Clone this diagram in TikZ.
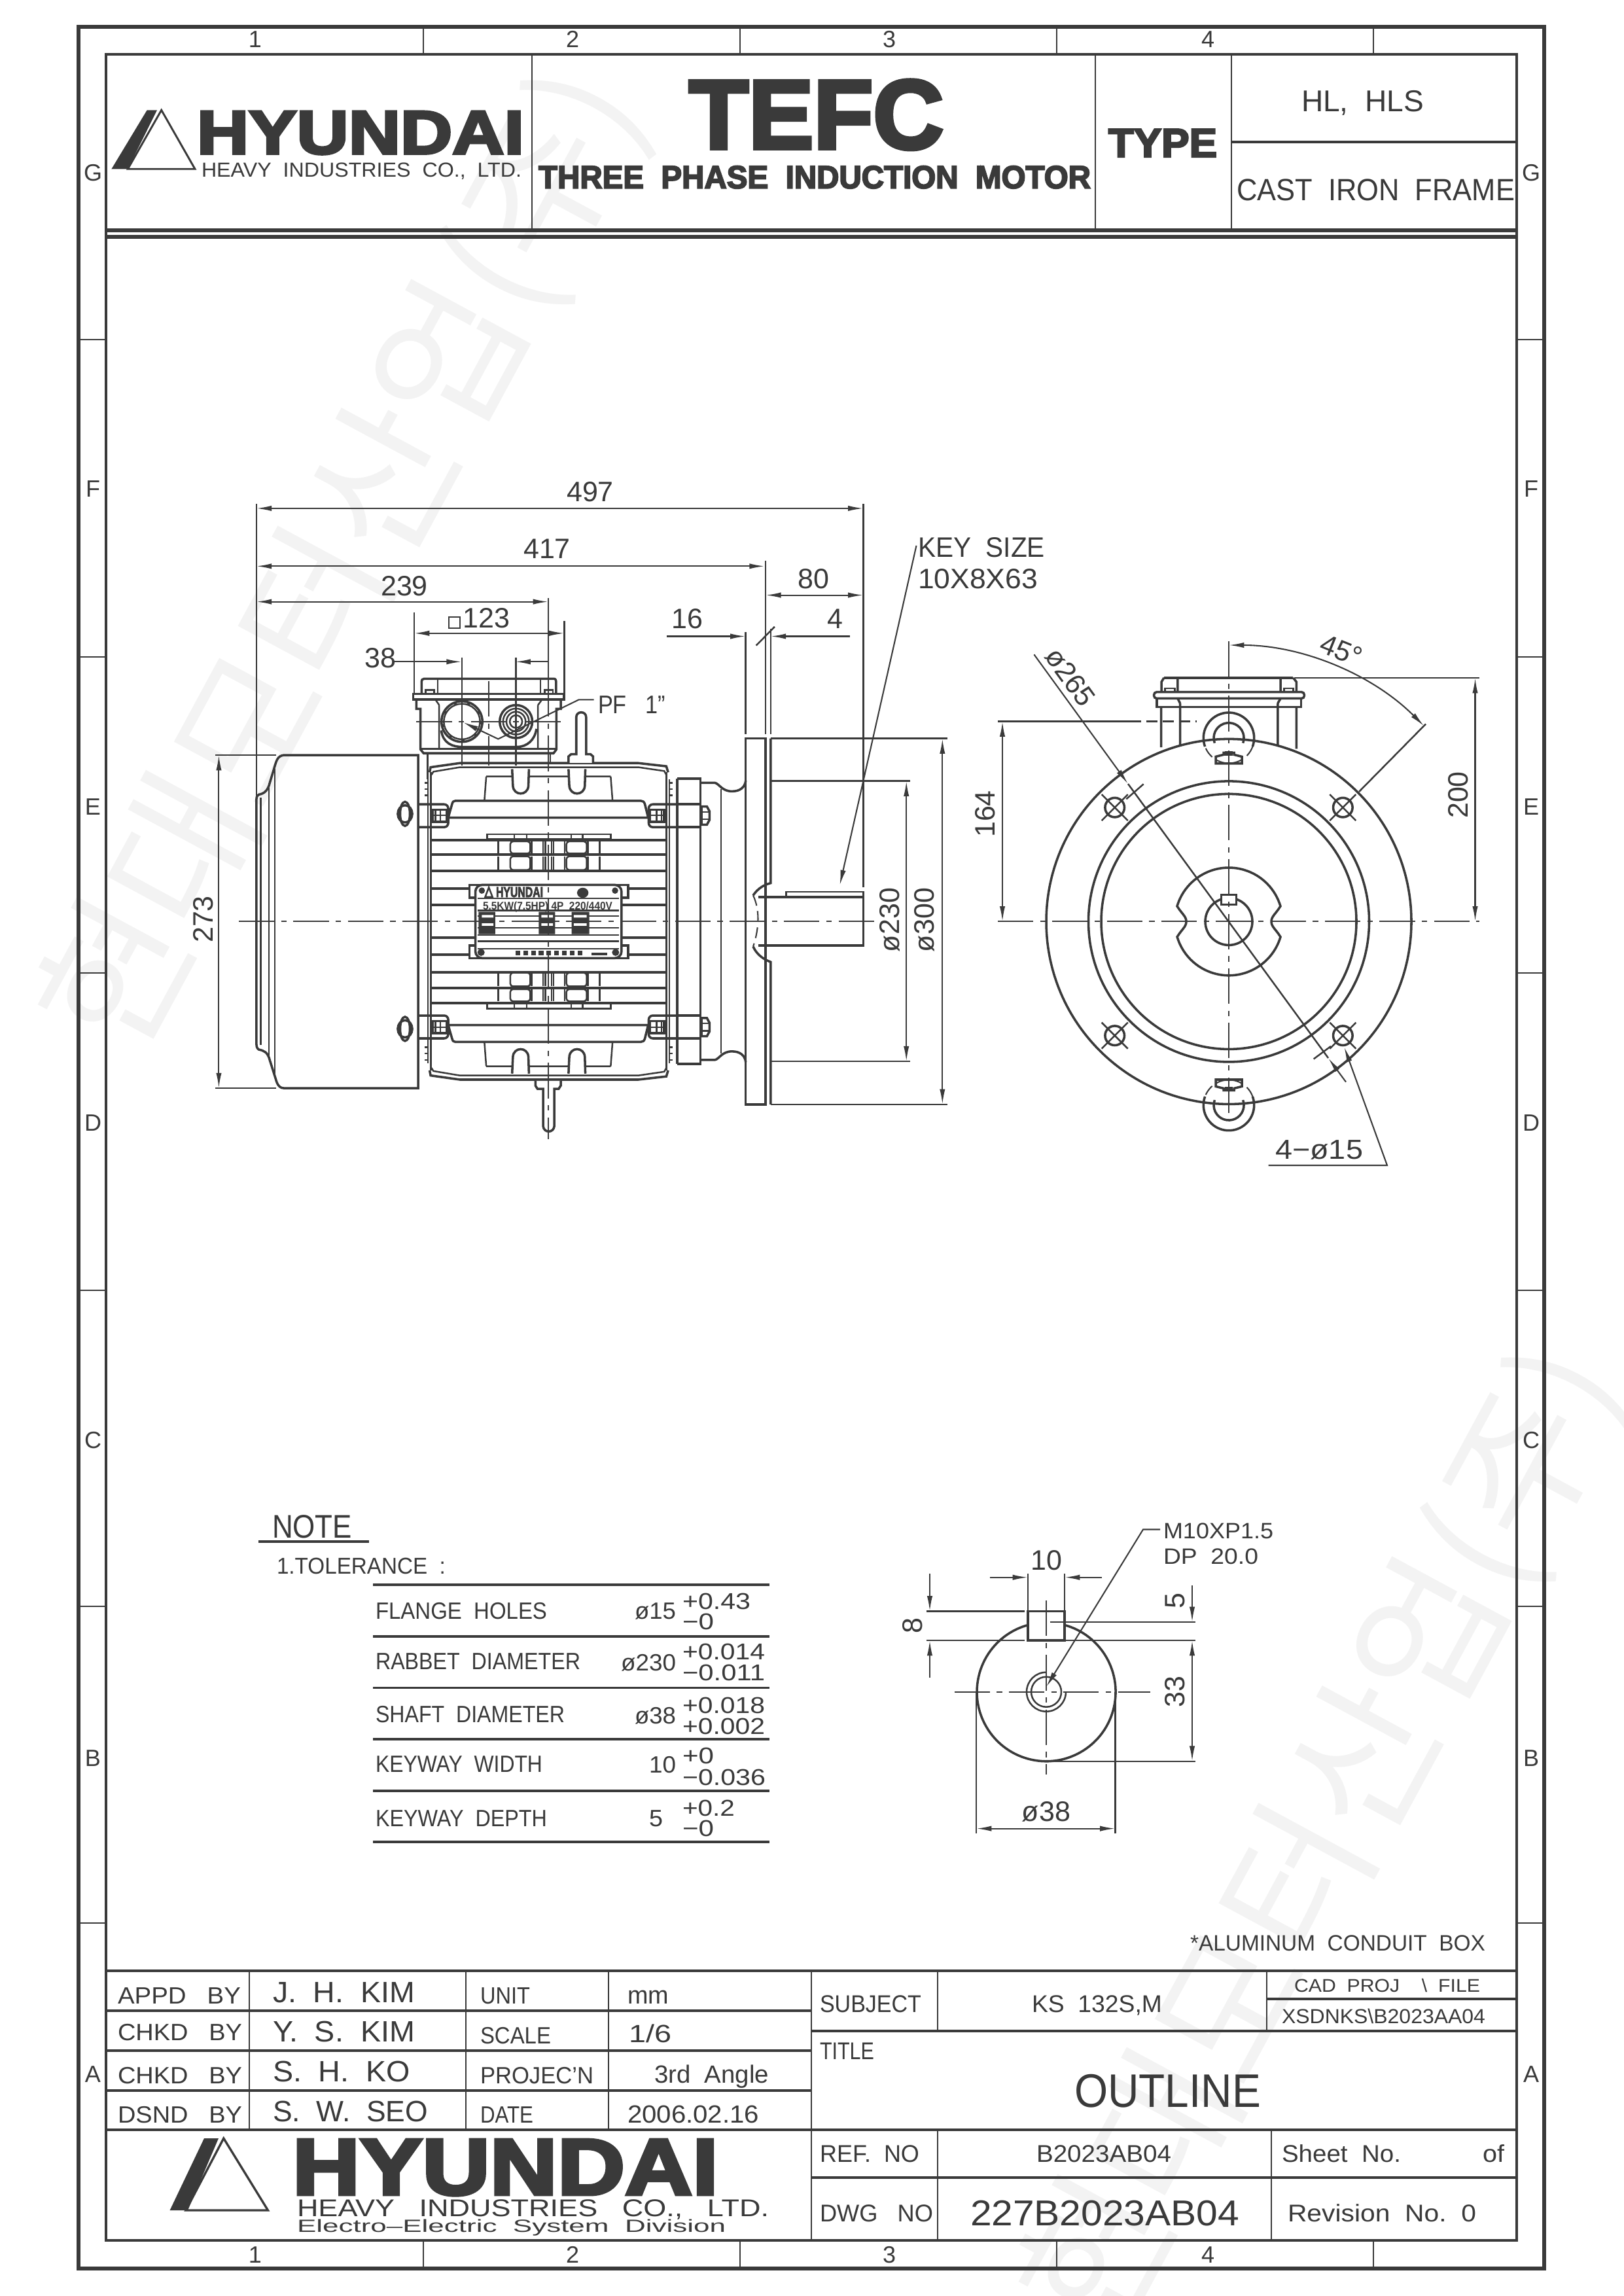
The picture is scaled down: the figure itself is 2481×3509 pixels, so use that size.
\documentclass[tikz,border=0pt]{standalone}
\usepackage{fontspec}
\usetikzlibrary{arrows.meta}
\setmainfont{Liberation Sans}
\newfontfamily\hvy[BoldFeatures={FakeBold=4}]{Liberation Sans}
\newfontfamily\cjk{Noto Sans CJK KR}
\definecolor{ink}{HTML}{3A3A3A}
\definecolor{wm}{HTML}{F3F3F3}
\newdimen\pu \pu=.24pt
\newdimen\mydh
\newcount\txno
\newcommand\hb{\hvy\bfseries}
\newcommand\fz[1]{\fontsize{\the\dimexpr#1\pu\relax}{\the\dimexpr#1\pu\relax}\selectfont}
\newcommand\fitw[3]{{\fz{#2}\sbox0{#3}\mydh=\ht0\relax\resizebox{#1\pu}{\mydh}{\usebox0}}}
% text: baseline-left x, y, width, font px, text
\newcommand\Tx[6][]{\global\advance\txno1 \node[txt,anchor=base west,name=t\the\txno,#1] at (#2,#3) {\fitw{#4}{#5}{#6}};}
% text centred at x,y with natural width
\newcommand\Cc[5][]{\global\advance\txno1 \node[txt,anchor=center,name=t\the\txno,#1] at (#2,#3) {\fz{#4}#5};}
\newcommand\Dm[4][]{\Cc[#1]{#2}{#3}{43}{#4}}
\newcommand\sq{{\fboxsep=.8pt\fboxrule=.45pt\raisebox{.9pt}{\fbox{\rule{2.2pt}{0pt}\rule{0pt}{1.9pt}}}\kern.8pt}}
\tikzset{
  txt/.style={inner sep=0pt,outer sep=0pt,text=ink},
  >={Latex[length=5.6pt,width=2pt]},
  dimn/.style={line width=.5pt,<->},
  cline/.style={line width=.5pt,dash pattern=on 13pt off 2.5pt on 2pt off 2.5pt},
  hid/.style={line width=.5pt,dash pattern=on 4pt off 2pt},
  frm/.style={line width=1.25pt},
  grid/.style={line width=.75pt},
  body/.style={line width=.85pt},
  fin/.style={line width=.95pt},
  z2/.style={shift={(300,720)},xscale=.7653,yscale=.6698},
  z3/.style={shift={(600,1000)},xscale=.3954,yscale=.4847},
  z4/.style={shift={(1480,940)},xscale=.5485,yscale=.574},
}
\begin{document}
\begin{tikzpicture}[x=.24pt,y=-.24pt,line width=.6pt,color=ink]
\useasboundingbox (0,0) rectangle (2481,3509);
\fill[white] (0,0) rectangle (2481,3509);
% watermark
\node[inner sep=0pt,rotate=61.6,text=wm] (wm1) at (530,860) {\resizebox{1660\pu}{!}{\fz{190}\cjk 현대모터산업(주)}};
\node[inner sep=0pt,rotate=61.6,text=wm] (wm2) at (2029,2812) {\resizebox{1660\pu}{!}{\fz{190}\cjk 현대모터산업(주)}};
% frames
\draw[frm] (120,41) rectangle (2360,3467);
\draw[grid] (162,83) rectangle (2318,3424);
\foreach \x in {647,1131,1615,2099} {\draw (\x,41)--(\x,83); \draw (\x,3424)--(\x,3467);}
\foreach \y in {519,1004,1487,1972,2455,2939} {\draw (120,\y)--(162,\y); \draw (2318,\y)--(2360,\y);}
\Cc{390}{60}{36}{1}\Cc{875}{60}{36}{2}\Cc{1359}{60}{36}{3}\Cc{1846}{60}{36}{4}
\Cc{390}{3446}{36}{1}\Cc{875}{3446}{36}{2}\Cc{1359}{3446}{36}{3}\Cc{1846}{3446}{36}{4}
\foreach \l/\y in {G/264,F/747,E/1233,D/1716,C/2201,B/2687,A/3170} {\Cc{142}{\y}{36}{\l}\Cc{2340}{\y}{36}{\l}}
% header
\draw[frm] (162,352)--(2318,352) (162,362)--(2318,362);
\draw (813,83)--(813,352) (1674,83)--(1674,352) (1882,83)--(1882,352);
\draw[grid] (1882,217)--(2318,217);
\fill (224.7,168.3)--(240,168.3)--(195.3,258.3)--(170.4,258.3)--cycle;
\draw[line width=.7pt] (246.7,168.3)--(298,258.3)--(195.3,258.3)--cycle;
\Tx{301}{235}{500}{94}{\hb HYUNDAI}
\Tx{308}{270.7}{489}{31}{HEAVY~~INDUSTRIES~~CO.,~~LTD.}
\Tx{1053}{227}{389}{150}{\hb TEFC}
\Tx{823}{287.7}{844}{49}{\hb THREE~~PHASE~~INDUCTION~~MOTOR}
\Tx{1694}{240}{166}{62}{\hb TYPE}
\Tx{1989}{170.7}{187}{46}{HL,~~HLS}
\Tx{1890}{307}{425}{47}{CAST~~IRON~~FRAME}
% title block
\Tx{1819}{2981.7}{451}{34}{*ALUMINUM~~CONDUIT~~BOX}
\draw[grid] (162,3012)--(2318,3012) (162,3255)--(2318,3255) (1240,3104)--(2318,3104) (1936,3055)--(2318,3055)
 (1240,3328)--(2318,3328) (162,3073)--(1240,3073) (162,3134)--(1240,3134) (162,3195)--(1240,3195);
\draw (381,3012)--(381,3255) (712,3012)--(712,3255) (930,3012)--(930,3255) (1240,3012)--(1240,3424)
 (1433,3012)--(1433,3104) (1936,3012)--(1936,3104) (1433,3255)--(1433,3424) (1943,3255)--(1943,3424);
\Tx{180}{3062.7}{188}{36}{APPD~~~BY}
\Tx{180}{3118}{190}{36}{CHKD~~~BY}
\Tx{180}{3184}{190}{36}{CHKD~~~BY}
\Tx{180}{3244}{190}{36}{DSND~~~BY}
\Tx{417}{3060}{217}{45}{J.~~H.~~KIM}
\Tx{417}{3120}{217}{45}{Y.~~S.~~KIM}
\Tx{417}{3181.7}{210}{45}{S.~~H.~~KO}
\Tx{417}{3242.7}{237}{45}{S.~~W.~~SEO}
\Tx{734}{3062.7}{76}{36}{UNIT}
\Tx{734}{3123}{108}{36}{SCALE}
\Tx{734}{3184}{173}{36}{PROJEC'N}
\Tx{734}{3244.7}{81}{36}{DATE}
\Tx{959}{3062.7}{63}{38}{mm}
\Tx{961}{3121.7}{65}{38}{1/6}
\Tx{1000}{3183}{175}{38}{3rd~~Angle}
\Tx{959}{3244.7}{201}{38}{2006.02.16}
\Tx{1253}{3075}{155}{37}{SUBJECT}
\Tx{1577}{3075}{199}{37}{KS~~132S,M}
\Tx{1978}{3044}{284}{28}{CAD~~PROJ~~~~\textbackslash~~FILE}
\Tx{1959}{3092.7}{311}{31}{XSDNKS\textbackslash B2023AA04}
\Tx{1253}{3147}{83}{37}{TITLE}
\Tx{1642}{3220.7}{285}{72}{OUTLINE}
\Tx{1253}{3304}{152}{37}{REF.~~NO}
\Tx{1584}{3304}{206}{37}{B2023AB04}
\Tx{1959}{3304}{182}{37}{Sheet~~No.}
\Tx{2266}{3304}{33}{37}{of}
\Tx{1253}{3395.7}{173}{37}{DWG~~~NO}
\Tx{1483}{3401.7}{411}{55}{227B2023AB04}
\Tx{1968}{3395.7}{288}{37}{Revision~~No.~~0}
\fill (312,3268)--(334,3268)--(287,3378)--(259.6,3378)--cycle;
\draw[line width=.8pt] (341.8,3268)--(409.5,3378)--(284,3378)--cycle;
\Tx{447}{3354}{651}{122}{\hb HYUNDAI}
\Tx{454}{3387}{721}{37}{HEAVY~~~INDUSTRIES~~~CO.,~~~LTD.}
\Tx{454}{3411.7}{655}{27}{Electro--Electric~~System~~Division}
% note and table
\Tx{416}{2350}{122}{50}{NOTE}
\draw[grid] (395,2356)--(564,2356);
\Tx{423}{2405}{258}{35}{1.TOLERANCE~~:}
\foreach \y in {2422,2501,2579.6,2658,2737,2815} {\draw[grid] (570,\y)--(1176,\y);}
\Tx{574}{2474}{262}{36}{FLANGE~~HOLES}
\Tx{970}{2474}{63}{36}{ø15}
\Tx{1043}{2459}{104}{35}{+0.43}
\Tx{1043}{2490}{48}{35}{−0}
\Tx{574}{2551}{313}{36}{RABBET~~DIAMETER}
\Tx{949}{2553.6}{84}{36}{ø230}
\Tx{1043}{2536.4}{126}{35}{+0.014}
\Tx{1043}{2568.6}{126}{35}{−0.011}
\Tx{574}{2632}{289}{36}{SHAFT~~DIAMETER}
\Tx{970}{2634}{63}{36}{ø38}
\Tx{1043}{2618.6}{126}{35}{+0.018}
\Tx{1043}{2650}{126}{35}{+0.002}
\Tx{574}{2708}{255}{36}{KEYWAY~~WIDTH}
\Tx{992}{2709}{41}{36}{10}
\Tx{1043}{2695}{48}{35}{+0}
\Tx{1043}{2728}{127}{35}{−0.036}
\Tx{574}{2791}{262}{36}{KEYWAY~~DEPTH}
\Tx{992}{2791}{21}{36}{5}
\Tx{1043}{2775}{80}{35}{+0.2}
\Tx{1043}{2806}{48}{35}{−0}
% shaft end view
\begin{scope}
\coordinate (sc) at (1599,2585.7);
\draw[body] (1627,2483.5) arc[start angle=-74.7,end angle=254.7,radius=106];
\draw[body] (1571,2462.5) rectangle (1627,2507);
\draw (sc) circle (23);
\draw (1629,2585.7) arc[start angle=0,end angle=270,radius=30];
\draw[cline] (1458.6,2585.7)--(1757.6,2585.7);
\draw[cline] (1599,2446)--(1599,2712);
\draw (1415.7,2462.5)--(1565.7,2462.5) (1415.7,2507)--(1565.7,2507) (1627,2507)--(1827,2507) (1604.5,2479)--(1827,2479) (1599,2691.8)--(1827,2691.8);
\draw (1571,2405)--(1571,2462.5) (1627,2405)--(1627,2462.5);
\draw[line width=.5pt,->] (1512.7,2410.7)--(1571,2410.7);
\draw[line width=.5pt,->] (1684,2410.7)--(1627,2410.7);
\draw[line width=.5pt,->] (1421,2405)--(1421,2462.5);
\draw[line width=.5pt,->] (1421,2564)--(1421,2507);
\draw[line width=.5pt,->] (1822,2422.5)--(1822,2479);
\draw[dimn] (1822,2507)--(1822,2691.8);
\draw[dimn] (1492,2794.6)--(1704.5,2794.6);
\draw (1492,2585.7)--(1492,2802) (1704.5,2585.7)--(1704.5,2802);
\draw[line width=.5pt,<-] (1599,2578)--(1747,2337.5)--(1773,2337.5);
\Dm{1599}{2385}{10}
\Dm[rotate=90]{1395}{2485}{8}
\Dm[rotate=90]{1796}{2447}{5}
\Dm[rotate=90]{1796}{2585.7}{33}
\Dm{1599}{2769}{ø38}
\Tx{1778}{2351}{168}{34}{M10XP1.5}
\Tx{1778}{2390}{145}{34}{DP~~20.0}
\end{scope}
% side view: fan cover, flange, shaft
\begin{scope}[z2]
\draw[body] (443,648)--(175,648) .. controls (162,650) and (160,660) .. (155,680)--(147,710) .. controls (143,730) and (135,736) .. (125,738) .. controls (120,742) and (120,745) .. (120,750)--(120,1300) .. controls (120,1312) and (120,1316) .. (125,1320) .. controls (135,1322) and (143,1326) .. (147,1345)--(160,1392) .. controls (163,1403) and (168,1408) .. (175,1408)--(443,1408)--cycle;
\draw (129,745)--(129,1310) (145,722)--(145,1335) (157,680)--(157,1385);
\draw[body] (1097,610) rectangle (1137,1445);
\draw (1097,368)--(1097,600) (1137,205)--(1137,600) (1147,360)--(1147,600);
\draw (1147,610)--(1500,610) (1147,1445)--(1500,1445);
\draw (1147,707)--(1425,707) (1147,1347)--(1425,1347);
\draw[body] (1147,610)--(1147,940) .. controls (1130,945) and (1120,955) .. (1112,968);
\draw[hid] (1112,968) .. controls (1125,1000) and (1125,1040) .. (1112,1085);
\draw[body] (1112,1085) .. controls (1120,1105) and (1135,1115) .. (1147,1120)--(1147,1445);
\draw[body] (1122,972)--(1332,972)--(1332,1082)--(1122,1082);
\draw (1178,960) rectangle (1332,972);
% dimensions
\draw (120,75)--(120,740) (1332,75)--(1332,950);
\draw[dimn] (120,85)--(1332,85);
\draw[dimn] (120,217)--(1135,217);
\draw[dimn] (120,298)--(703,298);
\draw (435,322)--(435,510) (735,342)--(735,510);
\draw[dimn] (435,370)--(735,370);
\draw[line width=.5pt,->] (395,435)--(530,435);
\draw[line width=.5pt,->] (703,435)--(637,435);
\draw[dimn] (1137,283)--(1332,283);
\draw[line width=.5pt,->] (940,377)--(1097,377);
\draw[line width=.5pt,->] (1305,377)--(1147,377);
\draw (1118,398)--(1155,355);
\draw[dimn] (45,648)--(45,1408);
\draw (38,648)--(160,648) (38,1408)--(160,1408);
\draw[dimn] (1418,707)--(1418,1347);
\draw[dimn] (1490,610)--(1490,1445);
\draw[line width=.5pt,<-] (1285,945)--(1438,170);
\end{scope}
\Dm{902}{752}{497}\Dm{836}{839}{417}\Dm{618}{896}{239}
\Dm{732}{945}{\sq 123}\Dm{581}{1006}{38}\Dm{1050}{946}{16}\Dm{1276}{946}{4}\Dm{1243.6}{885}{80}
\Dm[rotate=90]{311}{1405}{273}\Dm[rotate=90]{1360}{1406}{ø230}\Dm[rotate=90]{1413}{1406}{ø300}
\Tx{1403}{852}{194}{43}{KEY~~SIZE}
\Tx{1403}{899}{183}{43}{10X8X63}
\Tx{914}{1090}{103}{39}{PF~~~1”}
% motor body
\begin{scope}[z3]
\foreach \s in {1,-1} {
\begin{scope}[shift={(0,842)},yscale=\s,shift={(0,-842)}]
 \draw[body] (143,372)--(147,356)--(260,343)--(950,343)--(1058,353)--(1065,372);
 \draw (150,380)--(158,370)--(260,356)--(950,356)--(1050,368)--(1058,380);
 \draw (148,372)--(148,842) (1058,372)--(1058,842);
 \draw (137,395)--(137,842) (1070,395)--(1070,842);
 \foreach \xa in {462,680} {\draw[body] (\xa,362)--(\xa+3,415) .. controls (\xa+6,447) and (\xa+60,447) .. (\xa+63,415)--(\xa+65,362);}
 \draw (362,385)--(462,385) (530,385)--(680,385) (745,385)--(843,385) (362,385)--(355,460) (843,385)--(850,460);
 \draw[body] (215,515)--(230,472) .. controls (232,465) and (236,462) .. (242,462)--(960,462) .. controls (968,462) and (972,465) .. (975,472)--(988,515)--cycle;
 \draw[body,rounded corners=1.5pt] (100,473)--(215,473)--(215,545)--(100,545);
 \draw[body,rounded corners=1.5pt] (1100,473)--(990,473)--(990,545)--(1100,545);
 \draw[body,fill=white] (155,490) rectangle (210,528);
 \draw (165,490)--(165,528) (185,490)--(185,528) (155,508)--(210,508);
 \draw[body,fill=white] (995,490) rectangle (1050,528);
 \draw (1040,490)--(1040,528) (1020,490)--(1020,528) (995,508)--(1050,508);
 \draw[body] (48,503) circle[x radius=19,y radius=38];
 \draw[body] (48,503) circle[x radius=28,y radius=27];
 \foreach \y in {585,632,682,738,790} {\draw[fin] (148,\y)--(1058,\y);}
 \foreach \ya/\yb in {590/628,637/680} {
   \foreach \x in {408,538,582,622,665,755,800} {\draw (\x,\ya)--(\x,\yb);}
   \draw[rounded corners=1pt] (455,\ya) rectangle (532,\yb);
   \draw[rounded corners=1pt] (672,\ya) rectangle (750,\yb);
   \draw (590,\ya)--(590,\yb) (614,\ya)--(614,\yb);
 }
 \draw (365,567) rectangle (843,582);
 \foreach \x in {470,518,690,735} {\draw (\x,567)--(\x,582);}
 \foreach \y in {405,425,445} {\draw (125,\y)--(137,\y) (1070,\y)--(1082,\y);}
 \draw[body] (1100,392)--(1190,392)--(1190,842) (1100,392)--(1100,842);
 \draw[body] (1100,473)--(1190,473) (1100,545)--(1190,545);
 \draw[body] (1190,480)--(1215,480)--(1225,495)--(1225,522)--(1215,537)--(1190,537);
 \draw (1196,480)--(1196,537) (1196,497)--(1225,497) (1196,520)--(1225,520);
 \draw[body] (1190,405)--(1245,405) .. controls (1262,407) and (1272,432) .. (1312,432) .. controls (1342,432) and (1362,420) .. (1365,398);
 \draw (1270,425)--(1270,842);
\end{scope}
}
% terminal box
\draw[body] (80,125) rectangle (662,142);
\draw[body] (112,125)--(112,90) .. controls (112,80) and (115,77) .. (122,77)--(622,77) .. controls (630,77) and (632,80) .. (632,90)--(632,125);
\draw (175,77)--(175,125) (572,77)--(572,125);
\draw (128,112) rectangle (160,125) (588,112) rectangle (620,125);
\draw[body] (92,142)--(92,172)--(108,172)--(108,300)--(120,312)--(622,312)--(633,300)--(633,172)--(650,172)--(650,142);
\draw (108,298)--(633,298);
\draw (180,160)--(180,297) (562,160)--(562,297) (165,142)--(180,160) (578,142)--(562,160);
\draw[body] (188,240) .. controls (195,280) and (230,292) .. (270,292)--(480,292) .. controls (520,292) and (550,270) .. (556,235);
\draw (135,312)--(135,395) (610,312)--(610,345);
\draw[body,fill=white] (268,212) circle[x radius=79,y radius=64];
\draw (268,212) circle[x radius=70,y radius=56];
\draw[line width=1pt,dash pattern=on 1pt off 4pt] (268,212) circle[x radius=74,y radius=60];
\draw[body,fill=white] (477,212) circle[x radius=63,y radius=52];
\foreach \r/\q in {50/41,37/31,24/20} {\draw (477,212) circle[x radius=\r,y radius=\q];}
\draw[cline] (92,212)--(650,212);
\draw (268,10)--(268,350) (477,10)--(477,350);
\draw[cline] (372,85)--(372,350);
\draw[line width=.5pt,<-] (272,214)--(408,267)--(720,143)--(778,143);
% eye stems
\draw[body,fill=white] (680,342)--(680,322)--(690,315)--(710,315)--(710,198) .. controls (710,178) and (748,178) .. (748,198)--(748,315)--(765,315)--(775,322)--(775,342);
\draw[body,fill=white] (552,1345)--(552,1360)--(560,1370)--(582,1370)--(582,1488) .. controls (585,1510) and (622,1510) .. (625,1488)--(625,1370)--(642,1370)--(650,1360)--(650,1345);
% nameplate
\draw[body,fill=white] (297,727) rectangle (910,767);
\draw[body,fill=white] (297,918) rectangle (910,958);
\draw[body,fill=white,rounded corners=2.5pt] (320,727) rectangle (885,958);
\draw (330,770)--(875,770) (330,808)--(875,808) (330,825)--(875,825) (330,862)--(875,862) (330,885)--(875,885) (330,905)--(875,905) (330,928)--(875,928);
\fill (332,812) rectangle (397,882) (565,812) rectangle (628,882) (692,812) rectangle (760,882);
\fill[white] (345,822) rectangle (390,830) (575,822) rectangle (620,830) (700,822) rectangle (750,830) (345,848) rectangle (390,856) (575,848) rectangle (620,856) (700,848) rectangle (750,856);
\fill (735,752) circle[x radius=22,y radius=16];
\fill (345,745) circle[x radius=12,y radius=10] (860,745) circle[x radius=12,y radius=10] (342,940) circle[x radius=14,y radius=11] (862,940) circle[x radius=14,y radius=11];
\draw (358,765)--(372,735)--(386,765)--cycle;
\foreach \x in {475,505,535,565,595,625,655,685,715} {\fill (\x,934) rectangle (\x+18,950);}
\fill (770,940) rectangle (830,950);
\end{scope}
\Tx{758}{1371}{72}{22}{\hb HYUNDAI}
\Tx{738}{1390}{198}{17}{\bfseries 5.5KW(7.5HP)~4P~~220/440V}
% centre lines
\draw (838,914)--(838,1041);
\draw[cline] (838,1041)--(838,1741);
\draw[cline] (365,1408)--(1341,1408);
% front view
\coordinate (mc) at (1878,1408.4);
\begin{scope}[z4]
\draw[body] (545,167)--(905,167);
\draw[body] (538,205)--(538,178)--(545,167) (914,205)--(914,178)--(905,167) (583,167)--(583,205) (870,167)--(870,205);
\draw (548,195) rectangle (575,205) (880,195) rectangle (905,205);
\draw[body,rounded corners=1pt] (517,205) rectangle (936,222);
\draw[body] (525,222)--(525,245)--(927,245)--(927,222);
\draw[body] (537,245)--(537,352) (590,235)--(590,358) (862,235)--(862,348) (914,245)--(914,356) (583,222)--(590,235) (870,222)--(862,235);
\end{scope}
\begin{scope}[shift={(mc)}]
\draw[body,fill=white] (0,0) circle (279);
\draw[body] (0,0) circle (214.5);
\draw[body] (0,0) circle (195);
\draw[body] (-79,-23.5) arc[start angle=-163.4,end angle=-16.6,radius=82.4] .. controls (72,-12) and (65,-8) .. (65,0) .. controls (65,8) and (72,12) .. (79,23.5) arc[start angle=16.6,end angle=163.4,radius=82.4] .. controls (-72,12) and (-65,8) .. (-65,0) .. controls (-65,-8) and (-72,-12) .. cycle;
\draw[body] (0,0) circle (36);
\draw[body,fill=white] (-11.5,-41) rectangle (11.5,-26);
\foreach \a in {-174.3,174.3} {\foreach \b in {-174.3,174.3} {
  \draw[body] (\a,\b) circle (14.8);
  \draw (\a-20,\b-20)--(\a+20,\b+20) (\a-20,\b+20)--(\a+20,\b-20);
}}
\foreach \s in {1,-1} {
 \begin{scope}[yscale=\s]
  \draw[body] (-36.4,-267.4) arc[start angle=-200,end angle=20,radius=38.7];
  \draw[body] (-21.6,-272.8) arc[start angle=-200,end angle=20,radius=23];
  \draw[hid] (36.4,-267.4) arc[start angle=20,end angle=160,radius=38.7];
  \draw[body] (-20,-241.6)--(-20,-252)--(-8,-255)--(-8,-258)--(8,-258)--(8,-255)--(20,-252)--(20,-241.6)--cycle;
  \fill (-6,-260) rectangle (6,-253);
 \end{scope}
}
\end{scope}
\draw[cline] (1525,1408.4)--(2260.6,1408.4);
\draw[cline] (1878,980)--(1878,1709);
\draw (1525,1102.5)--(1727,1102.5);
\draw[hid] (1727,1102.5)--(1829,1102.5);
\draw[dimn] (1532,1102.5)--(1532,1408.4);
\draw (1979,1036)--(2260.6,1036);
\draw[dimn] (2254.5,1036)--(2254.5,1408.4);
\draw[dimn] (1878,986) arc[start angle=-90,end angle=-45,radius=422];
\draw (2179,1106.5)--(2077,1210);
\draw[line width=.5pt,->] (1580.4,1000.3)--(1724,1198);
\draw (1724,1198)--(2030,1617);
\draw[line width=.5pt,->] (2057,1653.6)--(2030,1617);
\begin{scope}[z4]
\draw (440,490)--(488,450) (962,1182)--(1010,1148);
\end{scope}
\draw[line width=.5pt,<-] (2054.3,1600)--(2120,1781)--(1938.6,1781);
\Dm[rotate=90]{1506}{1244}{164}
\Dm[rotate=90]{2229}{1215}{200}
\Dm[rotate=-22]{2050}{994}{45°}
\Dm[rotate=-54]{1636}{1035}{ø265}
\Tx{1949}{1771}{134}{42}{4−ø15}
\end{tikzpicture}
\end{document}
